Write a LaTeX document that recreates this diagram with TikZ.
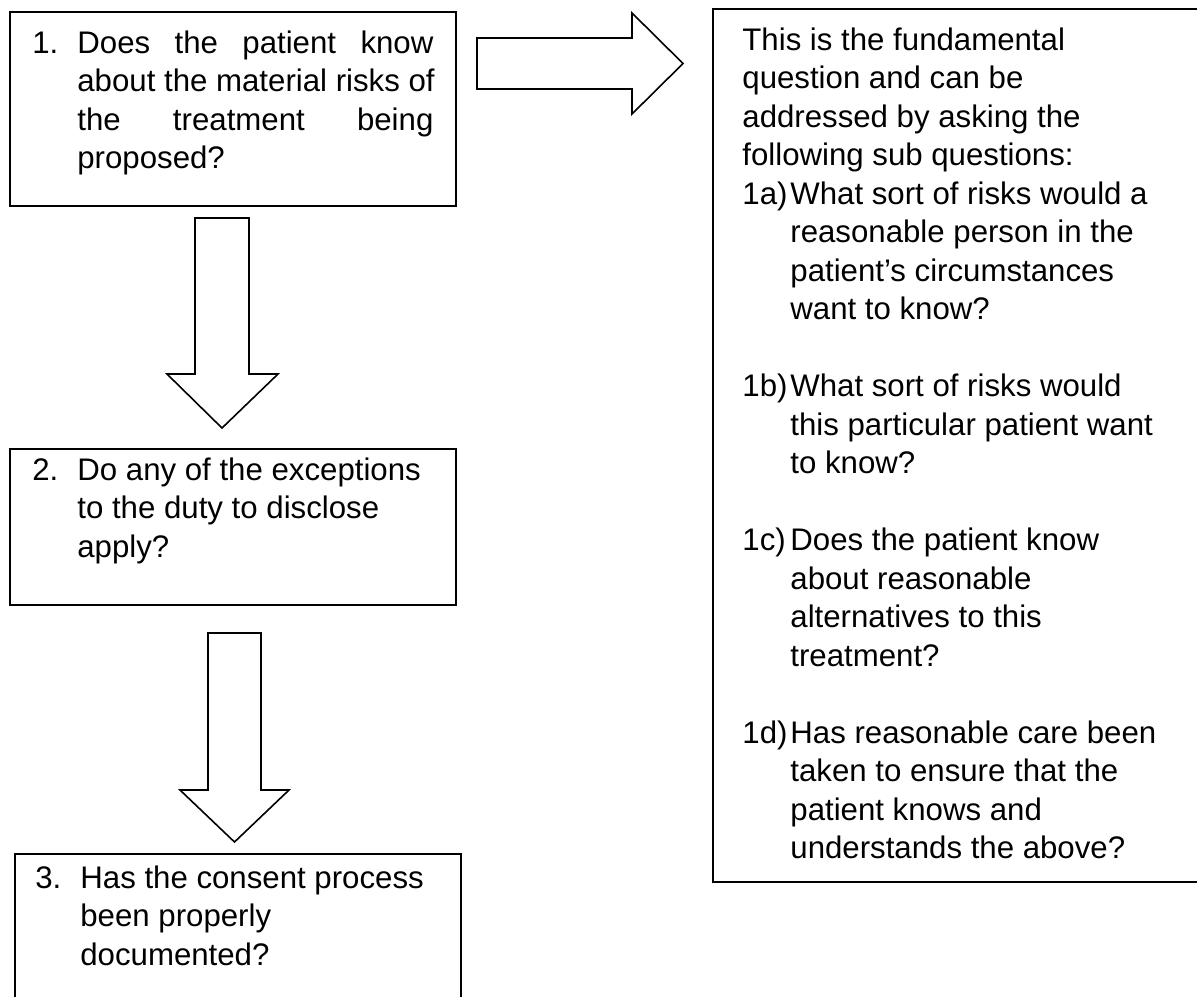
\documentclass[tikz,border=0pt]{standalone}
\usepackage{fontspec}
\setmainfont{Liberation Sans}
\usetikzlibrary{positioning}
\tikzset{
  qbox/.style = {draw, line width=1.1pt, anchor=north west, inner sep=0pt},
  qtext/.style = {anchor=base west, align=left, inner sep=0pt,
    font=\fontsize{15.6}{19.25}\selectfont},
  blockarrow/.style = {draw, line width=0.8pt, line join=miter}
}
\newcommand{\qnum}[2][22.5pt]{\makebox[#1][l]{#2}}
\newcommand{\qind}[1][22.5pt]{\hspace*{#1}}

\begin{document}
\begin{tikzpicture}[x=0.5pt,y=-0.5pt]
  \clip (0,0) rectangle (1197,996);
  \node[qbox, minimum width=223pt, minimum height=97pt] (q1) at (9,11) {};
  \node[qbox, minimum width=223pt, minimum height=78pt] (q2) at (9,448) {};
  \node[qbox, minimum width=223pt, minimum height=80pt] (q3) at (14,853) {};
  \node[qbox, minimum width=250pt, minimum height=436.5pt] (sub) at (712,8) {};
  \node[qtext] (q1text) at (32,168.5) {\qnum{1.}\makebox[178pt][s]{Does the patient know}\\
    \qind about the material risks of\\
    \qind\makebox[178pt][s]{the treatment being}\\
    \qind proposed?};
  \node[qtext] (q2text) at (32,557) {\qnum{2.}Do any of the exceptions\\
    \qind to the duty to disclose\\
    \qind apply?};
  \node[qtext] (q3text) at (35,965) {\qnum{3.}Has the consent process\\
    \qind been properly\\
    \qind documented?};
  \node[qtext] (subtext) at (742,858.5) {This is the fundamental\\
    question and can be\\
    addressed by asking the\\
    following sub questions:\\
    \qnum[24pt]{1a)}What sort of risks would a\\
    \qind[24pt]reasonable person in the\\
    \qind[24pt]patient’s circumstances\\
    \qind[24pt]want to know?\\[19.25pt]
    \qnum[24pt]{1b)}What sort of risks would\\
    \qind[24pt]this particular patient want\\
    \qind[24pt]to know?\\[19.25pt]
    \qnum[24pt]{1c)}Does the patient know\\
    \qind[24pt]about reasonable\\
    \qind[24pt]alternatives to this\\
    \qind[24pt]treatment?\\[19.25pt]
    \qnum[24pt]{1d)}Has reasonable care been\\
    \qind[24pt]taken to ensure that the\\
    \qind[24pt]patient knows and\\
    \qind[24pt]understands the above?};
  \draw[blockarrow] (477,38) -- (632,38) -- (632,13) -- (683,63.5)
    -- (632,114) -- (632,89) -- (477,89) -- cycle;
  \draw[blockarrow] (195,218) -- (249,218) -- (249,374) -- (278,374)
    -- (222,428) -- (167,374) -- (195,374) -- cycle;
  \draw[blockarrow] (208,633) -- (261,633) -- (261,790) -- (289,790)
    -- (234.5,842) -- (180,790) -- (208,790) -- cycle;
\end{tikzpicture}
\end{document}
